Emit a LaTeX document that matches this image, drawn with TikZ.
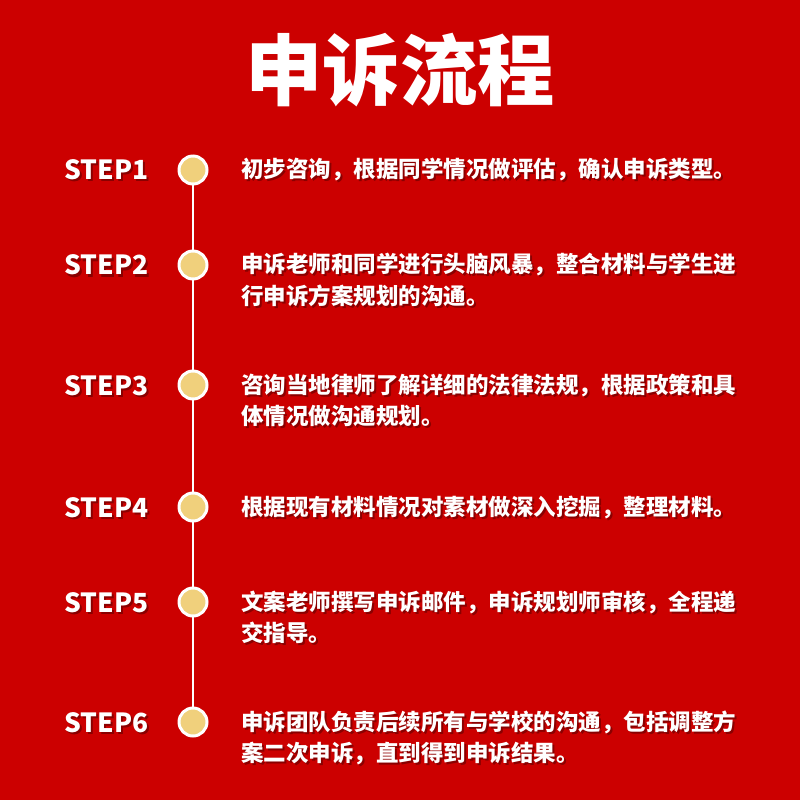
\documentclass[tikz,border=0pt]{standalone}
\usepackage{fontspec}
\newfontfamily\cjk{Noto Sans CJK SC}
\usetikzlibrary{positioning}
\definecolor{bgred}{HTML}{CC0000}
\definecolor{shade}{HTML}{8A0000}
\definecolor{dot}{HTML}{F0D07C}
\tikzset{
  title/.style={font=\cjk\bfseries\fontsize{44pt}{48pt}\selectfont, text=white, inner sep=0pt},
  steplab/.style={anchor=base west, font=\cjk\bfseries\fontsize{15pt}{18pt}\selectfont,
    text=white, inner sep=0pt},
  desc/.style={anchor=base west, text width=10.8cm, align=left,
    font=\cjk\bfseries\fontsize{12.8pt}{18.2pt}\selectfont, text=white, inner sep=0pt},
  shd/.style={text=shade},
  dotnode/.style={circle, draw=white, line width=1.7pt, fill=dot, minimum size=0.56cm, inner sep=0pt},
  link/.style={draw=white, line width=1.1pt},
}

\begin{document}
\begin{tikzpicture}[x=0.02cm, y=-0.02cm]
    \fill[bgred] (0,0) rectangle (800,800);
    \useasboundingbox (0,0) rectangle (800,800);
    \node[title] (head) at (400,70) {申诉流程};
    \foreach \n/\y/\t in {
      1/170/{初步咨询，根据同学情况做评估，确认申诉类型。},
      2/265/{申诉老师和同学进行头脑风暴，整合材料与学生进\\行申诉方案规划的沟通。},
      3/385/{咨询当地律师了解详细的法律法规，根据政策和具\\体情况做沟通规划。},
      4/507/{根据现有材料情况对素材做深入挖掘，整理材料。},
      5/602/{文案老师撰写申诉邮件，申诉规划师审核，全程递\\交指导。},
      6/722/{申诉团队负责后续所有与学校的沟通，包括调整方\\案二次申诉，直到得到申诉结果。}} {
      \node[steplab, shd] (ls\n) at (66,\y+12) {STEP\n};
      \node[steplab] (l\n) at (64,\y+10) {STEP\n};
      \node[desc, shd] (ts\n) at (243,\y+10) {\t};
      \node[desc] (t\n) at (241,\y+8) {\t};
      \node[dotnode] (d\n) at (193,\y) {};
    }
    \foreach \i/\j in {d1/d2,d2/d3,d3/d4,d4/d5,d5/d6} \draw[link] (\i) -- (\j);
\end{tikzpicture}
\end{document}
